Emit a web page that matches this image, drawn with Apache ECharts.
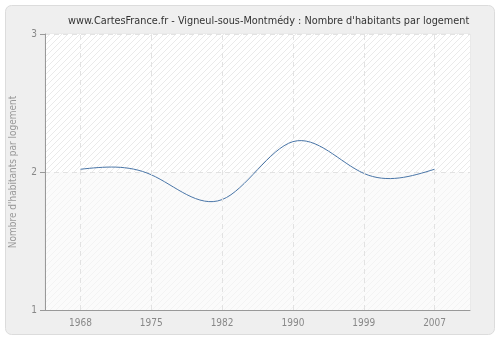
<!DOCTYPE html>
<html>
<head>
<meta charset="utf-8">
<script src="https://cdn.jsdelivr.net/npm/echarts@6/dist/echarts.min.js"></script>
<style>
  html, body { margin: 0; padding: 0; background: #fff; }
  #chart { width: 500px; height: 340px; }
</style>
</head>
<body>
<div id="chart"></div>
<script>
var years = ['1968', '1975', '1982', '1990', '1999', '2007'];
var habitants = [2.02, 1.98, 1.80, 2.22, 1.99, 2.02];
var yTicks = [1, 2, 3];

var font = 'DejaVu Sans Condensed, DejaVu Sans';

// petits motifs hachurés pour le fond
function hatch(bg, fg) {
	var c = document.createElement('canvas');
	c.width = 6; c.height = 6;
	var ctx = c.getContext('2d');
	ctx.fillStyle = bg;
	ctx.fillRect(0, 0, 6, 6);
	ctx.strokeStyle = fg;
	ctx.lineWidth = 1;
	ctx.beginPath();
	ctx.moveTo(0, 6); ctx.lineTo(6, 0);
	ctx.moveTo(-1, 1); ctx.lineTo(1, -1);
	ctx.moveTo(5, 7); ctx.lineTo(7, 5);
	ctx.stroke();
	return { image: c, repeat: 'repeat' };
}

// spline cubique naturelle (dérivées secondes) sur les points en pixels
function natSpline(ys) {
	var n = ys.length, M = new Array(n).fill(0);
	if (n < 3) return M;
	var c = [], d = [];
	for (var i = 1; i < n - 1; i++) {
		var rhs = 6 * (ys[i + 1] - 2 * ys[i] + ys[i - 1]);
		var den = 4 - (i > 1 ? c[i - 1] : 0);
		c[i] = 1 / den;
		d[i] = (rhs - (i > 1 ? d[i - 1] : 0)) / den;
	}
	for (var j = n - 2; j >= 1; j--) {
		M[j] = d[j] - c[j] * (j < n - 2 ? M[j + 1] : 0);
	}
	return M;
}

function renderCurve(params, api) {
	var i = params.dataIndex;
	if (i >= habitants.length - 1) return null;
	var pts = habitants.map(function (v, k) { return api.coord([k, v]); });
	var ys = pts.map(function (p) { return p[1]; });
	var M = natSpline(ys);
	var p0 = pts[i], p1 = pts[i + 1];
	var dx = p1[0] - p0[0];
	var d0 = ys[i + 1] - ys[i] - (2 * M[i] + M[i + 1]) / 6;
	var d1 = ys[i + 1] - ys[i] + (M[i] + 2 * M[i + 1]) / 6;
	return {
		type: 'bezierCurve',
		shape: {
			x1: p0[0], y1: p0[1],
			x2: p1[0], y2: p1[1],
			cpx1: p0[0] + dx / 3, cpy1: p0[1] + d0 / 3,
			cpx2: p1[0] - dx / 3, cpy2: p1[1] - d1 / 3
		},
		style: { stroke: '#4a76a8', lineWidth: 1, fill: null }
	};
}

var chart = echarts.init(document.getElementById('chart'));

var option = {
	backgroundColor: '#fff',
	animation: false,
	graphic: [{
		type: 'rect',
		z: -10,
		shape: { x: 5.5, y: 5.5, width: 489, height: 329, r: 6 },
		style: { fill: '#efefef', stroke: '#dcdcdc', lineWidth: 1 }
	}],
	title: {
		text: "www.CartesFrance.fr - Vigneul-sous-Montmédy : Nombre d'habitants par logement",
		left: 63,
		top: 11,
		textStyle: {
			fontFamily: font,
			fontSize: 10.8,
			fontWeight: 'normal',
			color: '#333'
		}
	},
	grid: {
		left: 40,
		right: 30,
		top: 34,
		bottom: 30,
		show: true,
		backgroundColor: '#fff',
		borderColor: '#e4e4e4',
		borderWidth: 1
	},
	xAxis: {
		type: 'category',
		data: years,
		boundaryGap: true,
		axisLine: { lineStyle: { color: '#999' } },
		axisTick: { alignWithLabel: true, length: 5, lineStyle: { color: '#999' } },
		axisLabel: {
			color: '#888',
			fontFamily: font,
			fontSize: 10,
			margin: 8
		},
		splitLine: { show: false }
	},
	yAxis: {
		type: 'value',
		min: 1,
		max: 3,
		interval: 1,
		name: "Nombre d'habitants par logement",
		nameLocation: 'middle',
		nameGap: 27,
		nameTextStyle: {
			color: '#999',
			fontFamily: font,
			fontSize: 10
		},
		axisLine: { show: true, lineStyle: { color: '#999' } },
		axisTick: { show: true, length: 5, lineStyle: { color: '#999' } },
		axisLabel: {
			color: '#888',
			fontFamily: font,
			fontSize: 10,
			margin: 8,
			formatter: function (v) { return yTicks.indexOf(v) >= 0 ? String(v) : ''; }
		},
		splitLine: {
			show: true,
			lineStyle: { color: '#e2e2e2', type: [5, 4] }
		},
		splitArea: {
			show: true,
			areaStyle: {
				color: [hatch('#fbfbfb', '#f3f3f3'), hatch('#ffffff', '#eaeaea')]
			}
		}
	},
	series: [{
		type: 'custom',
		data: habitants.map(function (v, k) { return [k, v]; }),
		renderItem: renderCurve,
		clip: true,
		z: 3,
		markLine: {
			silent: true,
			symbol: 'none',
			label: { show: false },
			lineStyle: { color: '#e2e2e2', type: [5, 4], width: 1 },
			data: years.map(function (y) { return { xAxis: y }; })
		}
	}]
};

chart.setOption(option);
</script>
</body>
</html>
